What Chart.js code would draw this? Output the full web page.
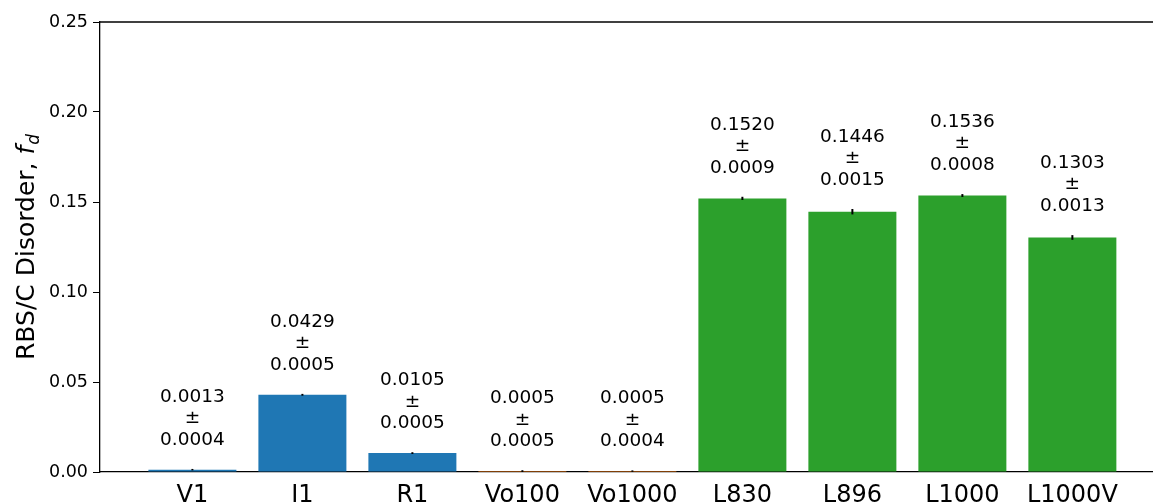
<!DOCTYPE html>
<html>
<head>
<meta charset="utf-8">
<script src="https://cdn.jsdelivr.net/npm/chart.js@4"></script>
<style>
  html, body { margin: 0; padding: 0; background: #fff; }
  #wrap { width: 1153px; height: 504px; overflow: hidden; }
</style>
</head>
<body>
<div id="wrap"><canvas id="chart" width="1153" height="504"></canvas></div>
<script>
const samples = ['V1', 'I1', 'R1', 'Vo100', 'Vo1000', 'L830', 'L896', 'L1000', 'L1000V'];
const disorder = [0.0013, 0.0429, 0.0105, 0.0005, 0.0005, 0.1520, 0.1446, 0.1536, 0.1303];
const errors = [0.0004, 0.0005, 0.0005, 0.0005, 0.0004, 0.0009, 0.0015, 0.0008, 0.0013];
const yTicks = [0, 0.05, 0.10, 0.15, 0.20, 0.25];

const barColors = ['#1f77b4', '#1f77b4', '#1f77b4', '#ff7f0e', '#ff7f0e',
                   '#2ca02c', '#2ca02c', '#2ca02c', '#2ca02c'];

const FONT = "'DejaVu Sans', sans-serif";

// error bars, value labels, top spine and y title
const extras = {
    id: 'extras',
    afterDatasetsDraw(chart) {
        const ctx = chart.ctx;
        const x = chart.scales.x, y = chart.scales.y;
        const area = chart.chartArea;
        ctx.save();

        // error bars
        ctx.strokeStyle = '#000';
        ctx.lineWidth = 2;
        disorder.forEach((v, i) => {
            const px = x.getPixelForValue(i);
            ctx.beginPath();
            ctx.moveTo(px, y.getPixelForValue(v - errors[i]));
            ctx.lineTo(px, y.getPixelForValue(v + errors[i]));
            ctx.stroke();
        });

        // labels
        ctx.fillStyle = '#000';
        ctx.font = '18.5px ' + FONT;
        ctx.textAlign = 'center';
        ctx.textBaseline = 'middle';
        disorder.forEach((v, i) => {
            const px = x.getPixelForValue(i);
            const base = y.getPixelForValue(v + errors[i]) - 29;
            ctx.fillText(errors[i].toFixed(4), px, base);
            ctx.fillText('±', px, base - 21.5);
            ctx.fillText(v.toFixed(4), px, base - 43);
        });

        // top spine
        ctx.strokeStyle = '#000';
        ctx.lineWidth = 1.3;
        ctx.beginPath();
        ctx.moveTo(area.left, area.top);
        ctx.lineTo(chart.width, area.top);
        ctx.stroke();

        // y axis title: RBS/C Disorder, f_d
        ctx.translate(34, (area.top + area.bottom) / 2);
        ctx.rotate(-Math.PI / 2);
        ctx.textBaseline = 'alphabetic';
        ctx.textAlign = 'left';
        const main = 'RBS/C Disorder, ';
        ctx.font = '25px ' + FONT;
        const w1 = ctx.measureText(main).width;
        ctx.font = 'italic 25px ' + FONT;
        const w2 = ctx.measureText('f').width;
        ctx.font = 'italic 17px ' + FONT;
        const w3 = ctx.measureText('d').width;
        const total = w1 + w2 + w3 + 1;
        let cx = -total / 2;
        ctx.font = '25px ' + FONT;
        ctx.fillText(main, cx, 0);
        cx += w1;
        ctx.font = 'italic 25px ' + FONT;
        ctx.fillText('f', cx, 0);
        cx += w2 + 1;
        ctx.font = 'italic 17px ' + FONT;
        ctx.fillText('d', cx, 5);
        ctx.restore();
    }
};

new Chart(document.getElementById('chart'), {
    type: 'bar',
    data: {
        datasets: [{
            data: disorder.map((v, i) => ({ x: i, y: v })),
            backgroundColor: barColors,
            borderWidth: 0,
            categoryPercentage: 0.8,
            barPercentage: 1.0
        }]
    },
    options: {
        responsive: false,
        animation: false,
        layout: { padding: { top: 22, left: 0, right: 0, bottom: 0 } },
        plugins: {
            legend: { display: false },
            tooltip: { enabled: false }
        },
        scales: {
            x: {
                type: 'linear',
                offset: false,
                min: -0.84,
                max: 8.733,
                afterBuildTicks(scale) {
                    scale.ticks = samples.map((s, i) => ({ value: i }));
                },
                afterFit(scale) { scale.height = 32; },
                ticks: {
                    autoSkip: false,
                    maxRotation: 0,
                    padding: 2,
                    color: '#000',
                    font: { family: FONT, size: 24 },
                    callback: (val) => samples[val]
                },
                grid: {
                    offset: false,
                    drawOnChartArea: false,
                    drawTicks: true,
                    tickLength: 7,
                    color: 'rgba(0,0,0,0)'
                },
                border: { color: '#000', width: 1.3 }
            },
            y: {
                min: 0,
                max: 0.25,
                afterBuildTicks(scale) {
                    scale.ticks = yTicks.map(v => ({ value: v }));
                },
                afterFit(scale) { scale.width = 100; },
                ticks: {
                    padding: 5,
                    color: '#000',
                    font: { family: FONT, size: 17.5 },
                    callback: (val) => val.toFixed(2)
                },
                grid: {
                    drawOnChartArea: false,
                    drawTicks: true,
                    tickLength: 7,
                    color: '#000'
                },
                border: { color: '#000', width: 1.3 }
            }
        }
    },
    plugins: [extras]
});
</script>
</body>
</html>
